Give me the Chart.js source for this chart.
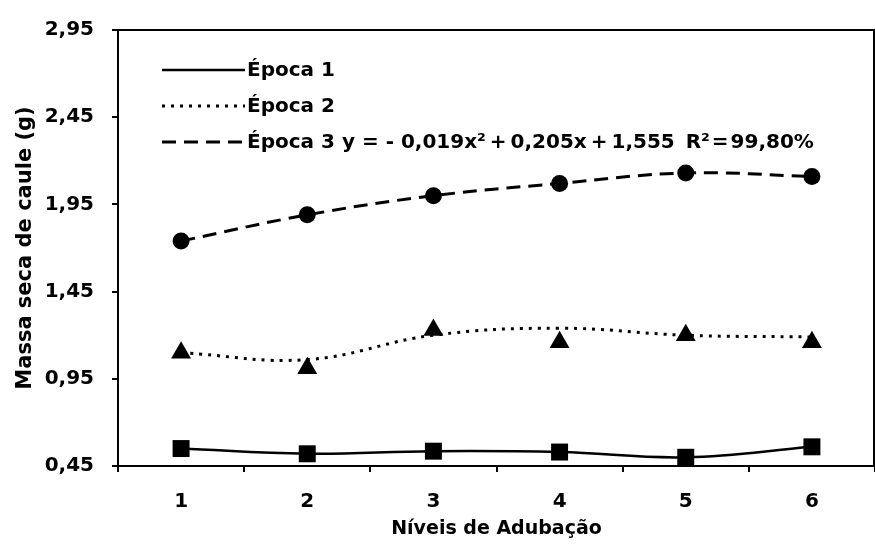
<!DOCTYPE html>
<html>
<head>
<meta charset="utf-8">
<script src="https://cdn.jsdelivr.net/npm/chart.js@4.4.1/dist/chart.umd.min.js"></script>
<style>
    html, body { margin: 0; padding: 0; background: #fff; }
    #grafico { width: 875px; height: 547px; }
</style>
</head>
<body>
<div id="grafico"><canvas id="graficoMassaCaule"></canvas></div>
<script>
// datos
const niveis = ['1', '2', '3', '4', '5', '6'];
const epoca1 = [0.55, 0.52, 0.535, 0.53, 0.50, 0.56];
const epoca2 = [1.10, 1.01, 1.23, 1.16, 1.20, 1.16];
const epoca2Curva = [1.10, 1.06, 1.20, 1.24, 1.20, 1.19];
const epoca3 = [1.74, 1.89, 2.00, 2.07, 2.13, 2.11];
const legendas = ['Época 1', 'Época 2', 'Época 3'];
const equacao = 'y = - 0,019x²\u2009+\u20090,205x\u2009+\u20091,555 \u2009R²\u200a=\u200a99,80%';
const yMin = 0.45;
const yMax = 2.95;
const yPaso = 0.5;

const fuente = "'DejaVu Sans', 'Liberation Sans', Arial, sans-serif";

// leyenda dentro del area y marco del grafico
const leyendaPlugin = {
    id: 'leyendaInterna',
    afterDraw: function(chart) {
        let ctx = chart.ctx;
        let area = chart.chartArea;
        let derecha = Math.min(area.right, chart.width - 1);
        ctx.save();
        ctx.strokeStyle = '#000';
        ctx.lineWidth = 2;
        ctx.strokeRect(area.left, area.top, derecha - area.left, area.bottom - area.top);

        let estilos = [chart.data.datasets[0], chart.data.datasets[2], chart.data.datasets[3]];
        ctx.font = 'bold 20px ' + fuente;
        ctx.fillStyle = '#000';
        ctx.textBaseline = 'middle';
        legendas.forEach(function(texto, i) {
            let y = area.top + 40 + i * 36;
            ctx.beginPath();
            ctx.setLineDash(estilos[i].borderDash || []);
            ctx.lineWidth = estilos[i].borderWidth;
            ctx.moveTo(area.left + 44, y);
            ctx.lineTo(area.left + 127, y);
            ctx.stroke();
            ctx.setLineDash([]);
            let txt = texto;
            if (i == 2) {
                txt = texto + ' ' + equacao;
            }
            ctx.fillText(txt, area.left + 129, y + 1);
        });
        ctx.restore();
    }
};

let ctx = document.getElementById('graficoMassaCaule').getContext('2d');
let chartCaule = new Chart(ctx, {
    type: 'line',
    data: {
        labels: niveis,
        datasets: [{
            label: legendas[0],
            data: epoca1,
            borderColor: '#000',
            backgroundColor: '#000',
            borderWidth: 2.5,
            tension: 0.4,
            pointStyle: 'rect',
            pointRadius: 12,
            pointBorderWidth: 0
        }, {
            label: legendas[1],
            data: epoca2,
            showLine: false,
            borderColor: '#000',
            backgroundColor: '#000',
            pointStyle: 'triangle',
            pointRadius: 11.5,
            pointBorderWidth: 0
        }, {
            label: legendas[1] + ' ajuste',
            data: epoca2Curva,
            borderColor: '#000',
            borderWidth: 3,
            borderDash: [3, 6],
            tension: 0.4,
            pointRadius: 0
        }, {
            label: legendas[2],
            data: epoca3,
            borderColor: '#000',
            backgroundColor: '#000',
            borderWidth: 3,
            borderDash: [14, 8],
            tension: 0.4,
            pointStyle: 'circle',
            pointRadius: 8.5,
            pointBorderWidth: 0
        }]
    },
    options: {
        responsive: true,
        maintainAspectRatio: false,
        animation: false,
        layout: {
            autoPadding: false,
            padding: { top: 23, right: 0, bottom: 0, left: 0 }
        },
        plugins: {
            legend: { display: false },
            tooltip: { enabled: false }
        },
        scales: {
            x: {
                offset: true,
                grid: { offset: true, drawOnChartArea: false, drawTicks: true, tickLength: 6, color: '#000', lineWidth: 2 },
                border: { display: true, color: '#000', width: 2 },
                ticks: { color: '#000', padding: 18, font: { family: fuente, size: 20, weight: 'bold' } },
                title: {
                    display: true,
                    text: 'Níveis de Adubação',
                    color: '#000',
                    padding: { top: 0, bottom: 7 },
                    font: { family: fuente, size: 19, weight: 'bold' }
                },
                afterFit: function(scale) { scale.height = 81; }
            },
            y: {
                min: yMin,
                max: yMax,
                grid: { drawOnChartArea: false, drawTicks: true, tickLength: 6, color: '#000', lineWidth: 2 },
                border: { display: true, color: '#000', width: 2 },
                ticks: {
                    stepSize: yPaso,
                    color: '#000',
                    padding: 18,
                    font: { family: fuente, size: 20, weight: 'bold' },
                    callback: function(valor) { return valor.toFixed(2).replace('.', ','); }
                },
                title: {
                    display: true,
                    text: 'Massa seca de caule (g)',
                    color: '#000',
                    padding: { top: 13, bottom: 0 },
                    font: { family: fuente, size: 21, weight: 'bold' }
                },
                afterFit: function(scale) { scale.width = 118; }
            }
        }
    },
    plugins: [leyendaPlugin]
});
</script>
</body>
</html>
